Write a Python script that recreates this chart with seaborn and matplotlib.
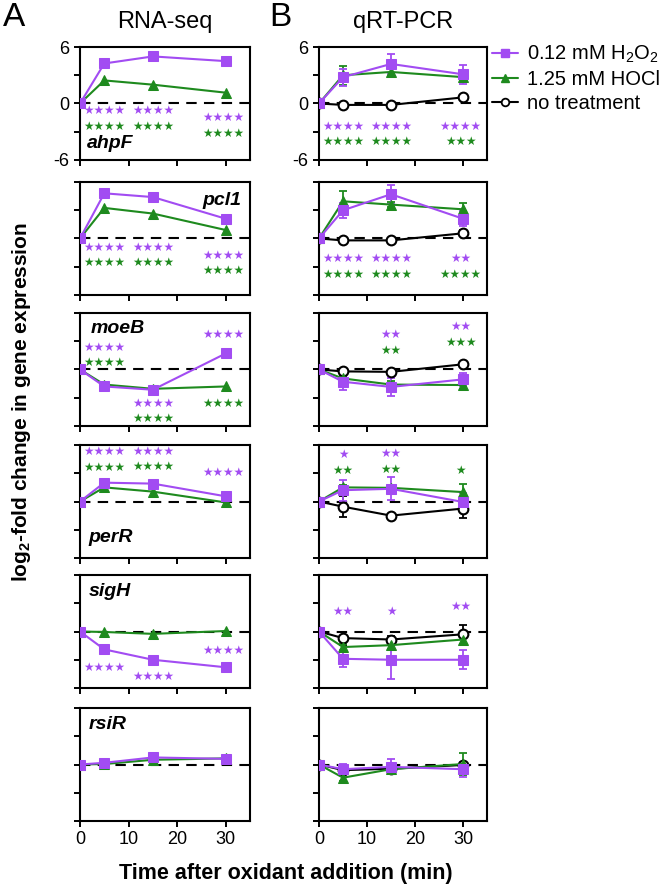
import numpy as np
import pandas as pd
import matplotlib
matplotlib.use("Agg")
import matplotlib.pyplot as plt
from matplotlib.lines import Line2D
import seaborn as sns

sns.set_style("ticks")
plt.rcParams['font.family'] = ['Liberation Sans', 'DejaVu Sans']
plt.rcParams['mathtext.default'] = 'regular'
plt.rcParams['text.color'] = 'black'
plt.rcParams['axes.labelcolor'] = 'black'
plt.rcParams['xtick.color'] = 'black'
plt.rcParams['ytick.color'] = 'black'

# ---------------- data ----------------
times = [0, 5, 15, 30]
genes = ["ahpF", "pcl1", "moeB", "perR", "sigH", "rsiR"]

rnaseq_h2o2 = [
    [0, 4.25, 5.0, 4.5],
    [0, 4.8, 4.4, 2.1],
    [0, -1.8, -2.15, 1.7],
    [0, 2.0, 1.9, 0.55],
    [0, -1.9, -3.0, -3.8],
    [0, 0.18, 0.75, 0.6],
]
rnaseq_hocl = [
    [0, 2.45, 2.0, 1.15],
    [0, 3.25, 2.65, 0.9],
    [0, -1.6, -2.05, -1.8],
    [0, 1.5, 1.05, -0.1],
    [0, -0.05, -0.25, 0.05],
    [0, 0.05, 0.5, 0.65],
]
qpcr_h2o2 = [
    [0, 2.8, 4.2, 3.1],
    [0, 3.0, 4.7, 2.1],
    [0, -1.3, -1.85, -1.05],
    [0, 1.2, 1.35, -0.05],
    [0, -2.9, -3.0, -3.0],
    [0, -0.5, -0.25, -0.5],
]
qpcr_h2o2_err = [
    [0, 0.9, 1.1, 1.0],
    [0, 0.8, 1.0, 0.8],
    [0, 0.9, 1.0, 0.7],
    [0, 1.1, 1.2, 1.0],
    [0, 0.9, 2.0, 1.0],
    [0, 0.6, 0.8, 0.8],
]
qpcr_hocl = [
    [0, 3.0, 3.35, 2.8],
    [0, 3.95, 3.6, 3.1],
    [0, -0.95, -1.6, -1.65],
    [0, 1.5, 1.45, 1.0],
    [0, -1.65, -1.45, -0.85],
    [0, -1.4, -0.5, 0.05],
]
qpcr_hocl_err = [
    [0, 1.0, 0.4, 0.3],
    [0, 1.1, 0.3, 0.7],
    [0, 0.3, 0.4, 0.4],
    [0, 0.3, 0.3, 0.9],
    [0, 0.3, 0.4, 0.6],
    [0, 0.3, 0.3, 1.2],
]
qpcr_none = [
    [0, -0.15, -0.15, 0.65],
    [0, -0.2, -0.2, 0.55],
    [0, -0.2, -0.25, 0.55],
    [0, -0.55, -1.5, -0.75],
    [0, -0.7, -0.85, -0.3],
    [0, -0.6, -0.45, -0.05],
]
qpcr_none_err = [
    [0, 0.15, 0.15, 0.3],
    [0, 0.3, 0.2, 0.3],
    [0, 0.2, 0.2, 0.2],
    [0, 1.1, 0.2, 1.0],
    [0, 0.7, 0.4, 1.0],
    [0, 0.3, 0.3, 0.3],
]

# significance marks: (row, time, y, n_stars, treatment)
rnaseq_stars = [
    (0, 5, -0.7, 4, "h2o2"), (0, 5, -2.4, 4, "hocl"),
    (0, 15, -0.7, 4, "h2o2"), (0, 15, -2.4, 4, "hocl"),
    (0, 29.5, -1.5, 4, "h2o2"), (0, 29.5, -3.2, 4, "hocl"),
    (1, 5, -0.95, 4, "h2o2"), (1, 5, -2.55, 4, "hocl"),
    (1, 15, -0.95, 4, "h2o2"), (1, 15, -2.55, 4, "hocl"),
    (1, 29.5, -1.8, 4, "h2o2"), (1, 29.5, -3.4, 4, "hocl"),
    (2, 5, 2.3, 4, "h2o2"), (2, 5, 0.7, 4, "hocl"),
    (2, 15, -3.6, 4, "h2o2"), (2, 15, -5.25, 4, "hocl"),
    (2, 29.5, 3.7, 4, "h2o2"), (2, 29.5, -3.6, 4, "hocl"),
    (3, 5, 5.3, 4, "h2o2"), (3, 5, 3.6, 4, "hocl"),
    (3, 15, 5.35, 4, "h2o2"), (3, 15, 3.75, 4, "hocl"),
    (3, 29.5, 3.05, 4, "h2o2"),
    (4, 5, -3.8, 4, "h2o2"), (4, 15, -4.8, 4, "h2o2"),
    (4, 29.5, -2.05, 4, "h2o2"),
]
qpcr_stars = [
    (0, 5, -2.4, 4, "h2o2"), (0, 5, -4.0, 4, "hocl"),
    (0, 15, -2.4, 4, "h2o2"), (0, 15, -4.0, 4, "hocl"),
    (0, 29.5, -2.4, 4, "h2o2"), (0, 29.5, -4.0, 3, "hocl"),
    (1, 5, -2.1, 4, "h2o2"), (1, 5, -3.85, 4, "hocl"),
    (1, 15, -2.1, 4, "h2o2"), (1, 15, -3.85, 4, "hocl"),
    (1, 29.5, -2.1, 2, "h2o2"), (1, 29.5, -3.85, 4, "hocl"),
    (2, 15, 3.7, 2, "h2o2"), (2, 15, 2.05, 2, "hocl"),
    (2, 29.5, 4.55, 2, "h2o2"), (2, 29.5, 2.9, 3, "hocl"),
    (3, 5, 5.0, 1, "h2o2"), (3, 5, 3.3, 2, "hocl"),
    (3, 15, 5.1, 2, "h2o2"), (3, 15, 3.4, 2, "hocl"),
    (3, 29.5, 3.3, 1, "hocl"),
    (4, 5, 2.1, 2, "h2o2"), (4, 15, 2.1, 1, "h2o2"),
    (4, 29.5, 2.7, 2, "h2o2"),
]

# gene label placement (axes fraction)
gene_label_pos = {
    "ahpF": (0.04, 0.15, "left"),
    "pcl1": (0.95, 0.84, "right"),
    "moeB": (0.06, 0.86, "left"),
    "perR": (0.05, 0.18, "left"),
    "sigH": (0.05, 0.85, "left"),
    "rsiR": (0.05, 0.85, "left"),
}

PURPLE = "#A24CF2"
GREEN = "#1E8A1E"
BLACK = "#000000"
colors = {"h2o2": PURPLE, "hocl": GREEN, "none": BLACK}

# ---------------- figure ----------------
W, H = 666, 888
fig = plt.figure(figsize=(W / 100, H / 100), dpi=100)

tops = [47, 182, 313, 445, 575, 708]
ph = 113
colA = (80, 170)
colB = (319, 168)


def make_ax(col, top):
    l, w = col
    return fig.add_axes([l / W, 1 - (top + ph) / H, w / W, ph / H])


def series_df(vals):
    return pd.DataFrame({"time": times, "value": vals})


def draw(ax, vals, key, marker, ms, open_marker=False, err=None):
    c = colors[key]
    if err is not None:
        ax.errorbar(times[1:], vals[1:], yerr=err[1:], fmt="none", ecolor=c,
                    elinewidth=1.3, capsize=3, capthick=1.3, zorder=3)
    kw = dict(marker=marker, markersize=ms, linewidth=1.5, color=c,
              markeredgecolor=c, zorder=4)
    if open_marker:
        kw.update(markerfacecolor="white", markeredgewidth=1.5, zorder=3.5)
    sns.lineplot(data=series_df(vals), x="time", y="value", ax=ax,
                 errorbar=None, legend=False, **kw)


def style_ax(ax, row, show_ylab):
    ax.set_xlim(0, 35)
    ax.set_ylim(-6, 6)
    ax.axhline(0, color="black", lw=1.5, ls=(0, (5, 3.5)), zorder=1)
    ax.set_xticks([0, 10, 20, 30])
    ax.set_yticks([-6, -3, 0, 3, 6])
    if row == 5:
        ax.set_xticklabels(["0", "10", "20", "30"], fontsize=13)
    else:
        ax.set_xticklabels([])
    if show_ylab:
        ax.set_yticklabels(["-6", "", "0", "", "6"], fontsize=13)
    else:
        ax.set_yticklabels([])
    ax.tick_params(direction="out", length=4.5, width=1.4, color="black",
                   labelcolor="black", pad=3)
    for s in ax.spines.values():
        s.set_linewidth(1.5)
        s.set_color("black")
    ax.set_xlabel("")
    ax.set_ylabel("")


def add_stars(ax, stars, row):
    for r, t, y, n, key in stars:
        if r != row:
            continue
        ax.text(t, y, "\u2605" * n, color=colors[key], fontsize=8.5,
                family="DejaVu Sans", ha="center", va="center", zorder=5)


for row, gene in enumerate(genes):
    axA = make_ax(colA, tops[row])
    draw(axA, rnaseq_hocl[row], "hocl", "^", 7.5)
    draw(axA, rnaseq_h2o2[row], "h2o2", "s", 7.5)
    style_ax(axA, row, row == 0)
    add_stars(axA, rnaseq_stars, row)
    gx, gy, ha = gene_label_pos[gene]
    axA.text(gx, gy, gene, transform=axA.transAxes, fontsize=14, color="black",
             fontweight="bold", style="italic", ha=ha, va="center")

    axB = make_ax(colB, tops[row])
    draw(axB, qpcr_none[row], "none", "o", 7, open_marker=True, err=qpcr_none_err[row])
    draw(axB, qpcr_hocl[row], "hocl", "^", 7.5, err=qpcr_hocl_err[row])
    draw(axB, qpcr_h2o2[row], "h2o2", "s", 7.5, err=qpcr_h2o2_err[row])
    style_ax(axB, row, row == 0)
    add_stars(axB, qpcr_stars, row)

# titles & panel letters
fig.text((80 + 85) / W, 1 - 22 / H, "RNA-seq", fontsize=17, ha="center", va="center")
fig.text((319 + 84) / W, 1 - 22 / H, "qRT-PCR", fontsize=17, ha="center", va="center")
fig.text(14 / W, 1 - 17 / H, "A", fontsize=24, ha="center", va="center")
fig.text(280 / W, 1 - 17 / H, "B", fontsize=24, ha="center", va="center")

fig.text(22 / W, 1 - 402 / H, "log$_2$-fold change in gene expression",
         fontsize=15, fontweight="bold", rotation=90, ha="center", va="center")
fig.text(286 / W, 1 - 873 / H, "Time after oxidant addition (min)",
         fontsize=15.5, fontweight="bold", ha="center", va="center")

handles = [
    Line2D([], [], color=PURPLE, marker="s", ms=6, lw=1.5, label="0.12 mM H$_2$O$_2$"),
    Line2D([], [], color=GREEN, marker="^", ms=6, lw=1.5, label="1.25 mM HOCl"),
    Line2D([], [], color=BLACK, marker="o", ms=5.5, lw=1.5, mfc="white", mew=1.3,
           label="no treatment"),
]
fig.legend(handles=handles, loc="upper left", bbox_to_anchor=(492 / W, 1 - 44 / H),
           frameon=False, fontsize=14.5, handlelength=1.3, handletextpad=0.45,
           labelspacing=0.25, borderaxespad=0, borderpad=0)

fig.savefig("out.png", dpi=100)
